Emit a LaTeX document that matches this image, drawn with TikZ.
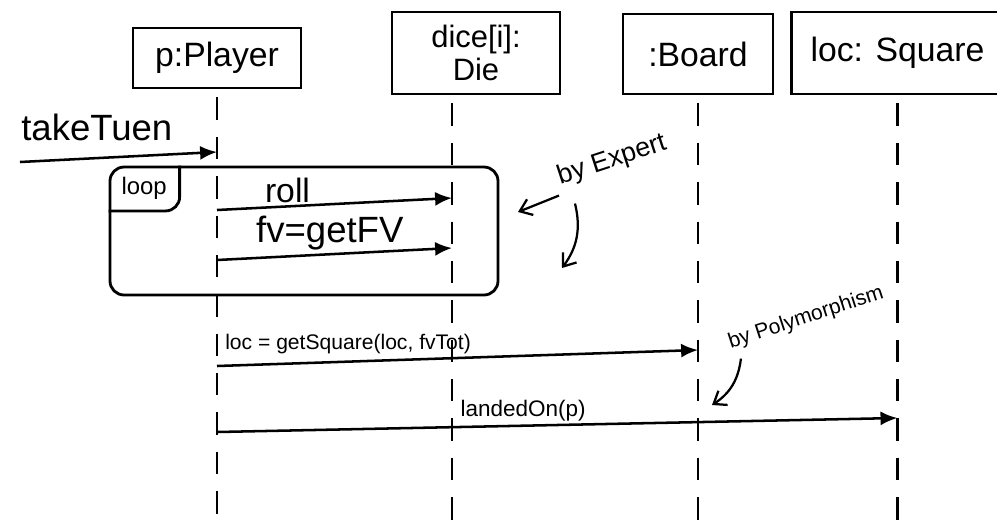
\documentclass[tikz,border=0pt]{standalone}
\usepackage{fontspec}
\setmainfont{Liberation Sans}
\usetikzlibrary{arrows.meta}

\begin{document}
\begin{tikzpicture}[x=0.25mm, y=-0.25mm,
    obj/.style={draw, line width=2pt, font=\fontsize{24}{26}\selectfont, inner sep=4pt},
    life/.style={line width=1.6pt, dash pattern=on 16pt off 12pt},
    msg/.style={line width=1.8pt, -{Latex[length=12pt, width=10pt]}},
    hint/.style={line width=1.6pt, -{Straight Barb[length=8pt, width=12pt]}},
    lbl/.style={inner sep=2pt}]
  \useasboundingbox (0,0) rectangle (997,528);
  % objects
  \node[obj, minimum width=42mm, minimum height=15mm] (player) at (217,58) {p:Player};
  \node[obj, minimum width=42mm, minimum height=20.5mm, align=center,
        font=\fontsize{22}{24}\selectfont] (dice) at (476,53) {dice[i]:\\Die};
  \node[obj, minimum width=37.5mm, minimum height=20mm] (board) at (698,54) {:Board};
  \node[obj, minimum width=53mm, minimum height=20.5mm, anchor=west] (square) at (790,53) {loc: Square};
  % lifelines
  \coordinate (pl) at (player.south);
  \coordinate (dl) at ([xshift=-6mm]dice.south);
  \coordinate (bl) at (board.south);
  \coordinate (sl) at (square.south);
  \foreach \l in {pl, dl, bl, sl}
    \draw[life] (\l) ++(0,8) -- (\l |- 0,528);
  % found message
  \coordinate (start) at (20,162);
  \draw[msg] (start) -- (pl |- 0,152)
    node[pos=0, anchor=south west, yshift=14pt, inner sep=0pt,
         font=\fontsize{26}{28}\selectfont] (take) {takeTuen};
  % loop frame
  \node[draw, line width=2pt, rounded corners=10pt, minimum width=97mm,
        minimum height=32mm] (frame) at (304,231) {};
  \node[anchor=north west, inner xsep=9pt, inner ysep=8pt,
        font=\fontsize{17}{19}\selectfont] (tag) at (frame.north west) {loop};
  \draw[line width=2pt, rounded corners=10pt] (tag.north east) |- (tag.south west);
  % messages
  \draw[msg] (pl |- 0,210) -- node[lbl, above, pos=0.3,
    font=\fontsize{24}{26}\selectfont] (roll) {roll} (dl |- 0,198);
  \draw[msg] (pl |- 0,260) -- node[lbl, above, pos=0.48,
    font=\fontsize{26}{28}\selectfont] (getfv) {fv=getFV} (dl |- 0,248);
  \draw[msg] (pl |- 0,366) -- node[lbl, anchor=south west, pos=0, xshift=3pt, yshift=6pt,
    font=\fontsize{15}{17}\selectfont] (getsq) {loc = getSquare(loc, fvTot)} (bl |- 0,350);
  \draw[msg] (pl |- 0,432) -- node[lbl, above, pos=0.45,
    font=\fontsize{16}{18}\selectfont] (landed) {landedOn(p)} (sl |- 0,418);
  % notes
  \node[rotate=18, font=\fontsize{19}{21}\selectfont] (expert) at (612,160) {by Expert};
  \coordinate (e1) at (518,212);
  \coordinate (e2) at (562,268);
  \draw[hint] (expert.south west) -- (e1);
  \draw[hint] ([xshift=4mm, yshift=-2mm]expert.south west) to[bend left=25] (e2);
  \node[rotate=18, font=\fontsize{15}{17}\selectfont] (poly) at (806,318) {by Polymorphism};
  \coordinate (p1) at (712,405);
  \draw[hint] ([xshift=3mm]poly.south west) to[bend left=25] (p1);
\end{tikzpicture}
\end{document}
